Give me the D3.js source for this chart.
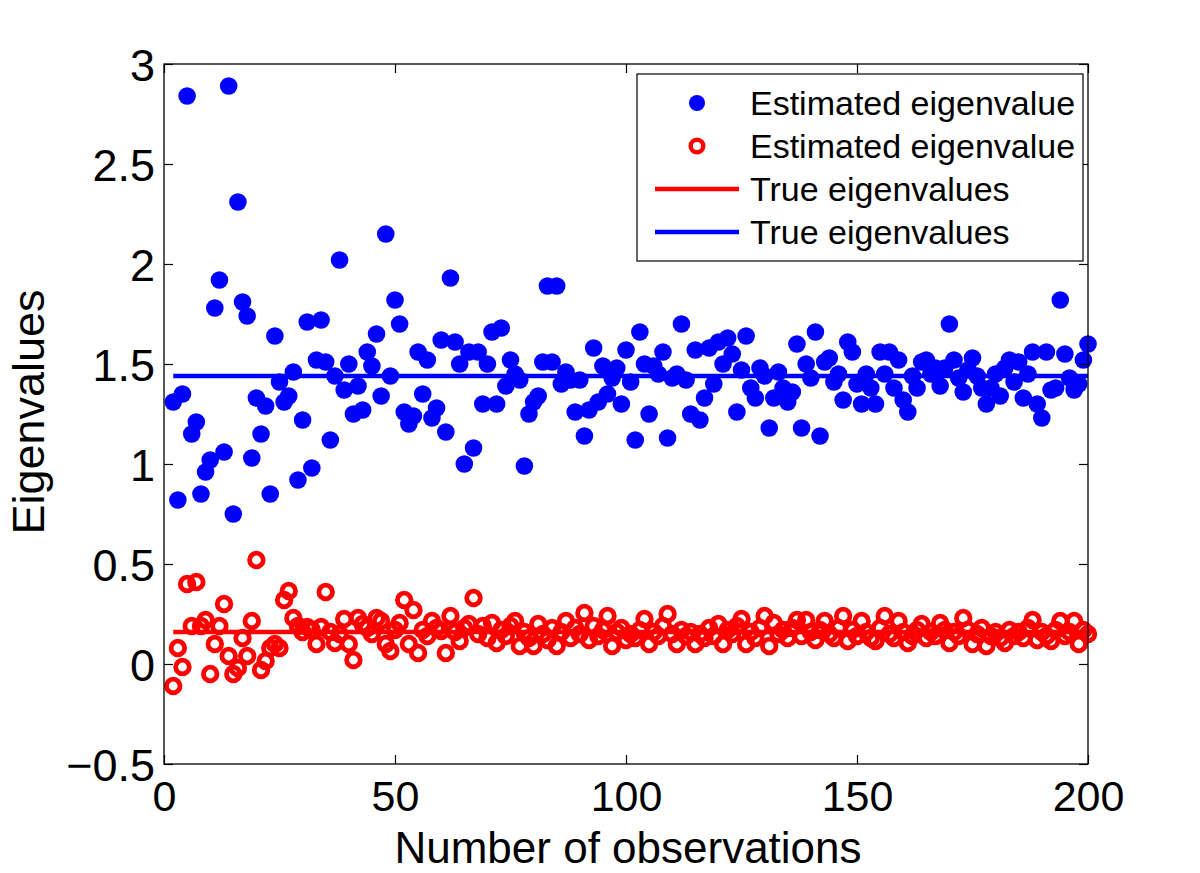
<!DOCTYPE html>
<html><head><meta charset="utf-8">
<script src="https://cdn.jsdelivr.net/npm/d3@7"></script>
<style>body{margin:0;background:#fff} text{font-family:"Liberation Sans",Arial,Helvetica,sans-serif;fill:#000}</style>
</head><body><svg id="c" width="1200" height="873"></svg>
<script>
// ---- data ----
const firstObservation = 2;
const blueEstimates = [
1.31,0.82,1.35,2.84,1.15,1.21,0.85,0.96,1.02,1.78,1.92,1.06,2.89,0.75,2.31,1.81,1.74,1.03,1.33,
1.15,1.29,0.85,1.64,1.41,1.31,1.34,1.46,0.92,1.22,1.71,0.98,1.52,1.72,1.51,1.12,1.44,2.02,1.37,1.50,
1.25,1.39,1.27,1.56,1.49,1.65,1.34,2.15,1.44,1.82,1.70,1.26,1.20,1.24,1.56,1.35,1.52,1.23,1.28,1.62,
1.16,1.93,1.61,1.50,1.00,1.56,1.08,1.56,1.30,1.50,1.66,1.30,1.68,1.39,1.52,1.45,1.42,0.99,1.25,1.31,
1.34,1.51,1.89,1.51,1.89,1.40,1.46,1.42,1.26,1.42,1.14,1.27,1.58,1.31,1.49,1.35,1.43,1.48,1.30,1.57,
1.41,1.12,1.66,1.50,1.25,1.49,1.45,1.56,1.13,1.43,1.45,1.70,1.42,1.25,1.57,1.22,1.33,1.58,1.40,1.61,
1.50,1.63,1.55,1.26,1.47,1.64,1.38,1.33,1.48,1.44,1.18,1.33,1.46,1.38,1.31,1.36,1.60,1.18,1.50,1.43,
1.66,1.14,1.51,1.53,1.41,1.45,1.32,1.61,1.56,1.40,1.30,1.45,1.38,1.30,1.56,1.45,1.56,1.38,1.52,1.32,
1.26,1.44,1.38,1.51,1.52,1.45,1.48,1.39,1.48,1.70,1.52,1.43,1.36,1.47,1.53,1.44,1.38,1.30,1.38,1.45,
1.34,1.48,1.52,1.41,1.51,1.33,1.45,1.56,1.30,1.23,1.56,1.37,1.38,1.82,1.55,1.43,1.37,1.40,1.52,1.60];
const redEstimates = [
-0.11,0.08,-0.015,0.40,0.19,0.41,0.19,0.22,-0.05,0.10,0.19,0.30,0.04,-0.05,-0.02,0.13,0.04,0.215,0.52,
-0.03,0.015,0.08,0.10,0.08,0.32,0.365,0.23,0.19,0.16,0.185,0.17,0.10,0.185,0.36,0.16,0.105,0.15,0.225,0.10,
0.02,0.23,0.20,0.18,0.15,0.23,0.215,0.10,0.065,0.17,0.205,0.32,0.10,0.27,0.055,0.17,0.14,0.215,0.18,0.165,
0.055,0.24,0.16,0.115,0.18,0.20,0.33,0.15,0.19,0.13,0.205,0.105,0.17,0.14,0.19,0.215,0.09,0.16,0.13,0.09,
0.20,0.15,0.12,0.18,0.09,0.16,0.215,0.13,0.18,0.15,0.255,0.12,0.19,0.14,0.17,0.24,0.09,0.16,0.18,0.12,
0.15,0.13,0.17,0.225,0.10,0.16,0.14,0.19,0.25,0.15,0.10,0.17,0.14,0.16,0.10,0.15,0.13,0.18,0.14,0.20,
0.10,0.17,0.15,0.19,0.225,0.10,0.16,0.13,0.18,0.24,0.09,0.205,0.15,0.17,0.13,0.18,0.22,0.14,0.22,0.16,
0.12,0.17,0.215,0.15,0.13,0.18,0.24,0.115,0.17,0.14,0.215,0.16,0.13,0.115,0.18,0.24,0.15,0.13,0.215,0.16,
0.105,0.14,0.17,0.20,0.13,0.16,0.14,0.205,0.17,0.105,0.16,0.14,0.23,0.17,0.10,0.15,0.18,0.09,0.14,0.16,
0.13,0.105,0.17,0.14,0.16,0.13,0.18,0.22,0.12,0.16,0.14,0.115,0.17,0.215,0.14,0.16,0.215,0.10,0.17,0.15];
const trueBlue = 1.44;
const trueRed = 0.16;
const trueRange = [2, 200];
const xTicks = [0, 50, 100, 150, 200];
const yTicks = [-0.5, 0, 0.5, 1, 1.5, 2, 2.5, 3];
const yTickLabels = ["\u22120.5","0","0.5","1","1.5","2","2.5","3"];
const legendLabels = ["Estimated eigenvalue","Estimated eigenvalue","True eigenvalues","True eigenvalues"];
const xLabel = "Number of observations";
const yLabel = "Eigenvalues";

// ---- layout ----
const svg = d3.select("#c");
const L = 164, R = 1088, T = 64, B = 764;
const x = d3.scaleLinear().domain([0, 200]).range([L, R]);
const y = d3.scaleLinear().domain([-0.5, 3]).range([B, T]);
const BLUE = "#0000ff", RED = "#ff0000";

const blueData = blueEstimates.map((v, i) => ({n: firstObservation + i, v}));
const redData = redEstimates.map((v, i) => ({n: firstObservation + i, v}));

const plot = svg.append("g");
plot.selectAll("circle.b").data(blueData).join("circle")
  .attr("cx", d => x(d.n)).attr("cy", d => y(d.v)).attr("r", 8.8).attr("fill", BLUE);
plot.selectAll("circle.r").data(redData).join("circle")
  .attr("cx", d => x(d.n)).attr("cy", d => y(d.v)).attr("r", 6.8)
  .attr("fill", "none").attr("stroke", RED).attr("stroke-width", 4.8);
const line = d3.line().x(d => x(d[0])).y(d => y(d[1]));
plot.append("path").attr("d", line(trueRange.map(n => [n, trueRed])))
  .attr("stroke", RED).attr("stroke-width", 4.5).attr("fill", "none");
plot.append("path").attr("d", line(trueRange.map(n => [n, trueBlue])))
  .attr("stroke", BLUE).attr("stroke-width", 4.5).attr("fill", "none");

// ---- axes (ticks inward on all four sides) ----
const fs = 43;
const ax = (g, axis) => { g.call(axis); g.select(".domain").remove();
  g.selectAll(".tick line").attr("stroke", "#000").attr("stroke-width", 1.2); };
svg.append("g").attr("transform", `translate(0,${B})`).call(g => ax(g,
  d3.axisBottom(x).tickValues(xTicks).tickSize(-9).tickPadding(16).tickFormat(d3.format("d"))))
  .selectAll("text").attr("font-size", fs).attr("dy", "0.71em");
svg.append("g").attr("transform", `translate(0,${T})`).call(g => ax(g,
  d3.axisTop(x).tickValues(xTicks).tickSize(-9).tickFormat("")));
svg.append("g").attr("transform", `translate(${L},0)`).call(g => ax(g,
  d3.axisLeft(y).tickValues(yTicks).tickSize(-9).tickPadding(9).tickFormat((d, i) => yTickLabels[i])))
  .selectAll("text").attr("font-size", 45).attr("dy", "0.36em");
svg.append("g").attr("transform", `translate(${R},0)`).call(g => ax(g,
  d3.axisRight(y).tickValues(yTicks).tickSize(-9).tickFormat("")));
svg.selectAll(".tick text").attr("fill", "#000").attr("font-family", "Liberation Sans, Arial, sans-serif");
svg.append("rect").attr("x", L).attr("y", T).attr("width", R - L).attr("height", B - T)
  .attr("fill", "none").attr("stroke", "#000").attr("stroke-width", 1.3);

svg.append("text").attr("x", (L + R) / 2 + 2).attr("y", 863).attr("text-anchor", "middle")
  .attr("font-size", 44).text(xLabel);
svg.append("text").attr("transform", `translate(44,${(T + B) / 2 - 2}) rotate(-90)`)
  .attr("text-anchor", "middle").attr("font-size", 45).text(yLabel);

// ---- legend ----
const lg = svg.append("g");
lg.append("rect").attr("x", 637).attr("y", 74).attr("width", 446).attr("height", 187)
  .attr("fill", "#fff").attr("stroke", "#000").attr("stroke-width", 1.2);
const rowY = [103, 146, 189, 232];
lg.selectAll("text").data(legendLabels).join("text")
  .attr("x", 750).attr("y", (d, i) => rowY[i]).attr("dy", "0.36em")
  .attr("font-size", 34).text(d => d);
lg.append("circle").attr("cx", 697).attr("cy", rowY[0]).attr("r", 8).attr("fill", BLUE);
lg.append("circle").attr("cx", 697).attr("cy", rowY[1]).attr("r", 6.3)
  .attr("fill", "none").attr("stroke", RED).attr("stroke-width", 4.5);
lg.append("line").attr("x1", 655).attr("x2", 739).attr("y1", rowY[2]).attr("y2", rowY[2])
  .attr("stroke", RED).attr("stroke-width", 4.5);
lg.append("line").attr("x1", 655).attr("x2", 739).attr("y1", rowY[3]).attr("y2", rowY[3])
  .attr("stroke", BLUE).attr("stroke-width", 4.5);
</script></body></html>
